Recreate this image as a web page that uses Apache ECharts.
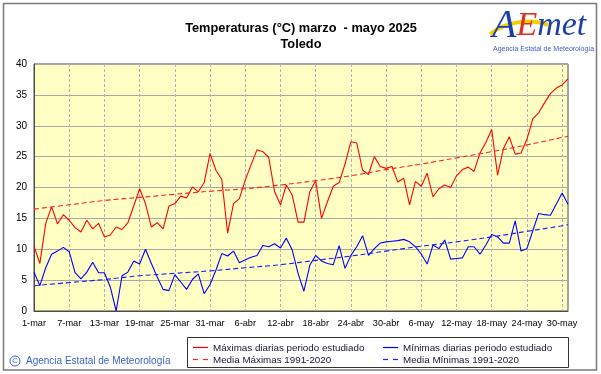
<!DOCTYPE html>
<html>
<head>
<meta charset="utf-8">
<script src="https://cdn.jsdelivr.net/npm/echarts@6/dist/echarts.min.js"></script>
<style>
html,body{margin:0;padding:0;background:#fff;}
#chart{width:601px;height:374px;}
</style>
</head>
<body>
<div id="chart"></div>
<script>
// Months and day counts used to build the daily category labels
var monthNames = ['mar', 'abr', 'may'];
var monthDays = [31, 30, 31];

// Daily maximum temperatures, 1-mar .. 31-may 2025
var maxDaily = [
  10.5, 7.7, 14.2, 16.9, 14.1, 15.6, 14.7, 13.5, 12.8, 14.7,
  13.3, 14.2, 12.0, 12.3, 13.6, 13.2, 14.3, 17.0, 19.8, 17.4,
  13.6, 14.3, 13.3, 17.0, 17.4, 18.6, 18.3, 20.1, 19.3, 20.8,
  25.5, 22.8, 21.3, 12.6, 17.4, 18.2, 21.2, 23.7, 26.1, 25.8,
  24.9, 19.3, 17.2, 20.4, 18.8, 14.4, 14.4, 19.3, 21.1, 15.0,
  17.7, 20.2, 20.8, 23.8, 27.4, 27.2, 22.8, 22.1, 25.0, 23.4,
  23.1, 23.4, 20.9, 21.5, 17.2, 21.0, 20.2, 22.3, 18.5, 19.8,
  20.4, 20.0, 21.9, 22.9, 23.3, 22.6, 25.6, 27.3, 29.4, 22.0,
  26.3, 28.2, 25.4, 25.6, 27.8, 31.1, 32.1, 33.7, 35.2, 36.1,
  36.6, 37.6
];

// Daily minimum temperatures, 1-mar .. 31-may 2025
var minDaily = [
  6.3, 4.1, 7.0, 9.2, 9.7, 10.3, 9.6, 6.2, 5.2, 6.3,
  7.9, 6.2, 6.2, 3.9, 0.0, 5.7, 6.3, 8.1, 7.6, 10.0,
  7.7, 5.5, 3.5, 3.3, 5.9, 4.7, 3.5, 5.1, 6.0, 2.8,
  4.3, 6.6, 9.3, 8.9, 9.7, 7.8, 8.3, 8.7, 9.0, 10.6,
  10.4, 10.9, 10.2, 11.8, 9.9, 6.1, 3.2, 7.4, 9.0, 8.1,
  7.7, 7.5, 10.6, 6.9, 9.0, 10.4, 12.2, 9.0, 10.1, 11.0,
  11.2, 11.3, 11.4, 11.6, 11.2, 10.4, 9.2, 7.6, 10.7, 10.1,
  11.5, 8.4, 8.5, 8.6, 10.4, 10.4, 9.2, 10.7, 12.4, 12.0,
  11.0, 11.0, 14.6, 9.7, 10.1, 13.0, 15.8, 15.6, 15.5, 17.3,
  19.1, 17.3
];

// 1991-2020 normals, read at the labelled days (day index, value)
var normalDays = [0, 6, 12, 18, 24, 30, 36, 42, 48, 54, 60, 66, 72, 78, 84, 90, 91];
var normalMax = [16.5, 17.2, 17.9, 18.4, 18.9, 19.4, 19.8, 20.4, 21.1, 21.9, 22.9, 23.8, 24.8, 25.8, 26.9, 28.1, 28.3];
var normalMin = [4.1, 4.6, 5.1, 5.7, 6.1, 6.5, 7.0, 7.5, 8.2, 8.9, 9.7, 10.5, 11.2, 12.0, 12.9, 13.8, 14.0];

var seriesNames = [
  'Máximas diarias periodo estudiado',
  'Mínimas diarias periodo estudiado',
  'Media Máximas 1991-2020',
  'Media Mínimas 1991-2020'
];
var seriesColors = ['#ff0000', '#0000ff', '#ff2020', '#2020ff'];
var titleText = 'Temperaturas (°C) marzo  - mayo 2025';
var subtitleText = 'Toledo';
var footerText = 'Agencia Estatal de Meteorología';

var categories = [];
monthNames.forEach(function (m, i) {
  for (var d = 1; d <= monthDays[i]; d++) categories.push(d + '-' + m);
});

function pairs(days, vals) {
  return days.map(function (d, i) { return [d, vals[i]]; });
}

var chart = echarts.init(document.getElementById('chart'), null, {renderer: 'canvas'});
var font = 'Liberation Sans, Arial, sans-serif';

// manual legend (2 columns x 2 rows) inside a bordered box
var legendGraphics = [
  {type: 'rect', shape: {x: 187.5, y: 337.5, width: 381, height: 30},
   style: {fill: '#ffffff', stroke: '#333', lineWidth: 1}, silent: true}
];
var legendPos = [[193, 347], [383, 347], [193, 359], [383, 359]];
seriesNames.forEach(function (name, i) {
  var p = legendPos[i];
  legendGraphics.push({
    type: 'line', shape: {x1: p[0], y1: p[1] + 0.5, x2: p[0] + 15, y2: p[1] + 0.5},
    style: {stroke: seriesColors[i], lineWidth: 1.2, lineDash: i >= 2 ? [5, 5] : null}, silent: true
  });
  legendGraphics.push({
    type: 'text', x: p[0] + 20, y: p[1] + 1,
    style: {text: name, font: '9.8px ' + font, fill: '#141430', textVerticalAlign: 'middle', verticalAlign: 'middle'},
    silent: true
  });
});

var option = {
  animation: false,
  backgroundColor: '#ffffff',
  textStyle: {fontFamily: font},
  title: [{
    text: titleText + '\n' + subtitleText,
    left: 296, top: 15, textAlign: 'center',
    textStyle: {fontSize: 12.8, fontWeight: 'bold', color: '#000', lineHeight: 16, fontFamily: font}
  }],
  grid: {
    left: 34, right: 33, top: 64, bottom: 63,
    show: true, backgroundColor: '#FFFFC4', borderColor: '#4a4a4a', borderWidth: 1
  },
  xAxis: {
    type: 'category', data: categories, boundaryGap: false,
    axisLine: {lineStyle: {color: '#4a4a4a', width: 1}},
    axisTick: {show: false},
    axisLabel: {interval: 5, fontSize: 9.2, color: '#000', margin: 8, fontFamily: font},
    splitLine: {show: true, interval: 5, lineStyle: {color: '#b0b0b0', type: [3, 2], width: 1}}
  },
  yAxis: {
    type: 'value', min: 0, max: 40, interval: 5,
    axisLine: {show: true, lineStyle: {color: '#4a4a4a', width: 1}},
    axisTick: {show: false},
    axisLabel: {fontSize: 10, color: '#000', margin: 7, fontFamily: font},
    splitLine: {show: true, lineStyle: {color: '#a8a8a8', width: 1}}
  },
  series: [{
    name: seriesNames[0], type: 'line', data: maxDaily, showSymbol: false, symbol: 'none',
    lineStyle: {color: seriesColors[0], width: 1.1}
  }, {
    name: seriesNames[1], type: 'line', data: minDaily, showSymbol: false, symbol: 'none',
    lineStyle: {color: seriesColors[1], width: 1.1}
  }, {
    name: seriesNames[2], type: 'line', data: pairs(normalDays, normalMax), smooth: 0.4,
    showSymbol: false, symbol: 'none',
    lineStyle: {color: seriesColors[2], width: 1.1, type: [5, 3]}
  }, {
    name: seriesNames[3], type: 'line', data: pairs(normalDays, normalMin), smooth: 0.4,
    showSymbol: false, symbol: 'none',
    lineStyle: {color: seriesColors[3], width: 1.1, type: [5, 3]}
  }],
  graphic: legendGraphics.concat([
    {type: 'rect', shape: {x: 3.5, y: 3.5, width: 593, height: 366.5},
     style: {fill: null, stroke: '#7a7a7a', lineWidth: 1.5}, silent: true, z: 100},
    // footer
    {type: 'circle', shape: {cx: 15, cy: 361, r: 5}, style: {fill: null, stroke: '#3a5fc8', lineWidth: 1}},
    {type: 'text', x: 15, y: 361, style: {text: 'C', font: '7.5px ' + font, fill: '#3a5fc8', textAlign: 'center', textVerticalAlign: 'middle', verticalAlign: 'middle', align: 'center'}},
    {type: 'text', x: 26, y: 361, style: {text: footerText, font: '10px ' + font, fill: '#3a5fc8', textVerticalAlign: 'middle', verticalAlign: 'middle'}},
    // AEMET logo
    {type: 'bezierCurve', shape: {x1: 490, y1: 34, cpx1: 505, cpy1: 22, cpx2: 530, cpy2: 18, x2: 548, y2: 25},
     style: {stroke: '#f5d000', lineWidth: 4, fill: null}},
    {type: 'text', left: 492, top: 6, style: {
      rich: {
        a: {font: 'italic 40px Liberation Serif, serif', fill: '#1f3fa8'},
        e: {font: 'italic 34px Liberation Serif, serif', fill: '#e03020'},
        m: {font: 'italic 34px Liberation Serif, serif', fill: '#1f3fa8'}
      },
      text: '{a|A}{e|E}{m|met}'
    }},
    {type: 'text', left: 493, top: 46, style: {text: 'Agencia Estatal de Meteorología', font: '7px ' + font, fill: '#3a5fc8'}}
  ])
};
chart.setOption(option);
</script>
</body>
</html>
